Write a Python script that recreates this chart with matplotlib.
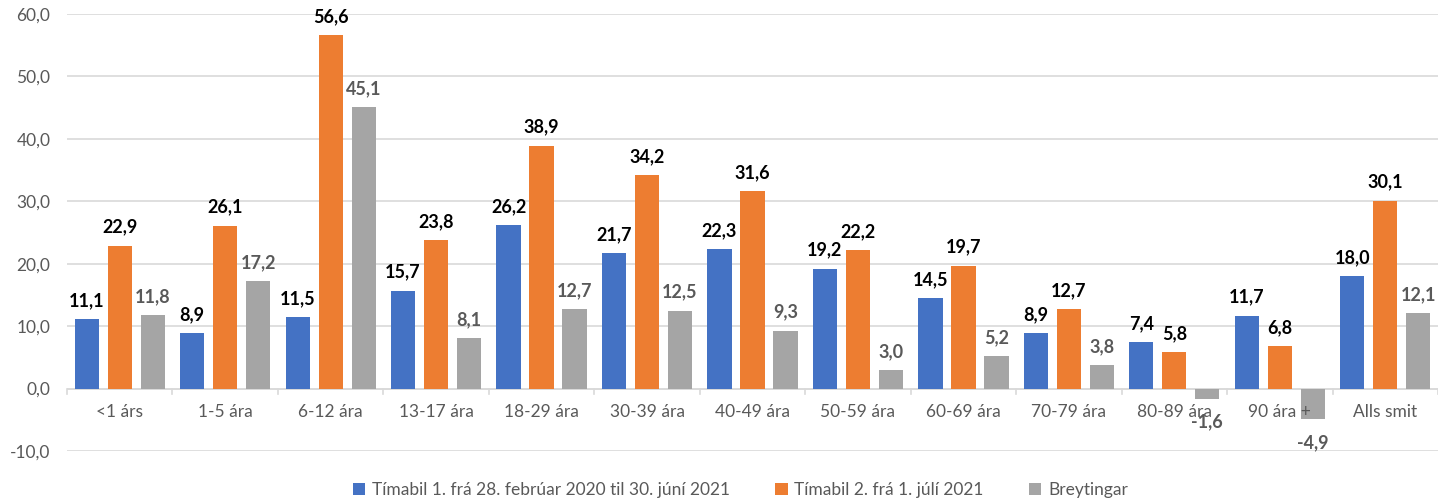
import matplotlib.pyplot as plt
import numpy as np

categories = ['<1 árs', '1-5 ára', '6-12 ára', '13-17 ára', '18-29 ára', '30-39 ára',
              '40-49 ára', '50-59 ára', '60-69 ára', '70-79 ára', '80-89 ára', '90 ára +', 'Alls smit']
period1 = [11.1, 8.9, 11.5, 15.7, 26.2, 21.7, 22.3, 19.2, 14.5, 8.9, 7.4, 11.7, 18.0]
period2 = [22.9, 26.1, 56.6, 23.8, 38.9, 34.2, 31.6, 22.2, 19.7, 12.7, 5.8, 6.8, 30.1]
change = [11.8, 17.2, 45.1, 8.1, 12.7, 12.5, 9.3, 3.0, 5.2, 3.8, -1.6, -4.9, 12.1]
series_names = ['Tímabil 1. frá 28. febrúar 2020 til 30. júní 2021',
                'Tímabil 2. frá 1. júlí 2021', 'Breytingar']

plt.rcParams['font.family'] = ['Lato', 'DejaVu Sans']

colors = ['#4472C4', '#ED7D31', '#A5A5A5']
label_cols = ['#000000', '#000000', '#595959']

fig = plt.figure(figsize=(14.38, 5.03), dpi=100)
ax = fig.add_axes([67 / 1438, 1 - 451 / 503, 1 - 67 / 1438, (451 - 14) / 503])

x = np.arange(len(categories))
w = 0.23
off = 0.313
for i, vals in enumerate([period1, period2, change]):
    pos = x + (i - 1) * off
    ax.bar(pos, vals, width=w, color=colors[i], label=series_names[i], zorder=3)
    for xp, v in zip(pos, vals):
        fmt = f'{v:.1f}'.replace('.', ',')
        if v >= 0:
            ax.text(xp, v + 1.6, fmt, ha='center', va='bottom', fontsize=13,
                    fontweight='bold', color=label_cols[i], zorder=5)
        else:
            ax.text(xp, v - 2.4, fmt, ha='center', va='top', fontsize=13,
                    fontweight='bold', color=label_cols[i], zorder=5)

ax.set_xlim(-0.5, len(categories) - 0.5)
ax.set_ylim(-10, 60)
ax.set_yticks(np.arange(-10, 61, 10))
ax.set_yticklabels([f'{t:.1f}'.replace('.', ',') for t in np.arange(-10, 61, 10)])
ax.yaxis.grid(True, color='#D9D9D9', linewidth=1.2, zorder=0)
ax.tick_params(axis='y', length=0, labelsize=12.5, labelcolor='#595959', pad=12)

# category labels sit just below the zero line
ax.set_xticks([])
for xp, c in zip(x, categories):
    ax.text(xp, -3.7, c, ha='center', va='center', fontsize=12.5, color='#595959', zorder=4)
ax.axhline(0, color='#D9D9D9', linewidth=1.2, zorder=2)
for b in np.arange(-0.5, len(categories), 1):
    ax.plot([b, b], [0, -0.9], color='#D9D9D9', linewidth=1.2, zorder=2, clip_on=False)

for s in ax.spines.values():
    s.set_visible(False)

leg = fig.legend(loc='center', ncol=3, frameon=False, fontsize=12.5,
                 bbox_to_anchor=(0.515, 0.026), handlelength=0.7, handleheight=0.7,
                 columnspacing=2.6, handletextpad=0.4)
for t in leg.get_texts():
    t.set_color('#595959')

fig.savefig('out.png', dpi=100)
